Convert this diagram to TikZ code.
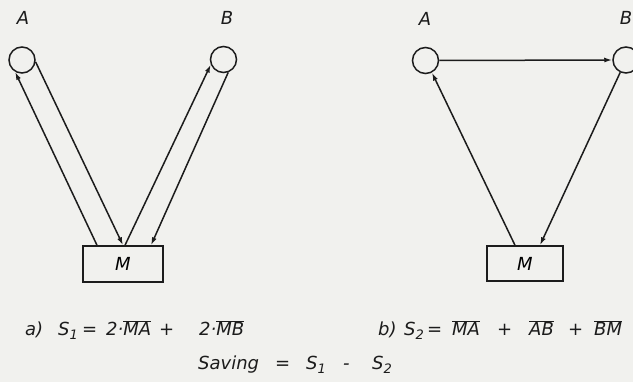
\documentclass[tikz,border=0pt]{standalone}
\usepackage{fontspec}
\setmainfont{DejaVu Sans}
\usetikzlibrary{arrows.meta}
\definecolor{paper}{HTML}{F1F1EE}
\definecolor{ink}{HTML}{1C1C1C}
\newcommand\ovl[1]{$\overline{\hbox{#1}}$}
\newcommand\sub[1]{\raisebox{-3.5pt}{\fontsize{13}{13}\selectfont #1}}
\tikzset{
  circ/.style={circle, draw=ink, line width=1.5pt, minimum size=26pt, inner sep=0pt},
  mbox/.style={rectangle, draw=ink, line width=1.5pt, inner sep=0pt, font=\fontsize{18}{18}\selectfont\itshape},
  lbl/.style={font=\fontsize{18}{18}\selectfont\itshape, text=ink, inner sep=0pt},
  tok/.style={font=\fontsize{18}{18}\selectfont\itshape, text=ink, inner sep=0pt, anchor=base west},
  conn/.style={draw=ink, line width=1.5pt},
  tip/.style={-{Latex[length=8pt,width=5pt]}}
}
\begin{document}
\begin{tikzpicture}[x=1pt,y=-1pt]
\fill[paper] (0,0) rectangle (633,382);
\useasboundingbox (0,0) rectangle (633,382);
% left diagram
\node[lbl] (la) at (23,18) {A};
\node[lbl] (lb) at (227,18) {B};
\node[circ] (A1) at (22,60) {};
\node[circ] (B1) at (223.5,59.5) {};
\node[mbox, minimum width=80pt, minimum height=36pt] (M1) at (123,264) {M};
\draw[conn,tip] ([xshift=-26pt]M1.north) -- (A1.-120);
\draw[conn,tip] (A1.-8) -- (M1.north);
\draw[conn,tip] ([xshift=2pt]M1.north) -- (B1.-158);
\draw[conn,tip] (B1.-70) -- ([xshift=28pt]M1.north);
% right diagram
\node[lbl] (ra) at (425,19) {A};
\node[lbl] (rb) at (626,18) {B};
\node[circ] (A2) at (425.5,60.5) {};
\node[circ] (B2) at (626,60) {};
\node[mbox, minimum width=76pt, minimum height=35pt] (M2) at (525,263.5) {M};
\draw[conn,tip] (A2.east) -- (B2.west);
\draw[conn,tip] ([xshift=-10pt]M2.north) -- (A2.-62);
\draw[conn,tip] (B2.-115) -- ([xshift=15pt]M2.north);
% formula a
\node[tok] (a1) at (25,336) {a)};
\node[tok] (a2) at (58,336) {S\sub{1}};
\node[tok] (a3) at (82,336) {=};
\node[tok] (a4) at (106,336) {2·\ovl{MA}};
\node[tok] (a5) at (159,336) {+};
\node[tok] (a6) at (199,336) {2·\ovl{MB}};
% formula b
\node[tok] (b1) at (378,336) {b)};
\node[tok] (b2) at (404,336) {S\sub{2}};
\node[tok] (b3) at (427,336) {=};
\node[tok] (b4) at (452,336) {\ovl{MA}};
\node[tok] (b5) at (497,336) {+};
\node[tok] (b6) at (529,336) {\ovl{AB}};
\node[tok] (b7) at (568,336) {+};
\node[tok] (b8) at (594,336) {\ovl{BM}};
% saving
\node[tok] (s1) at (198,370) {Saving};
\node[tok] (s2) at (275,370) {=};
\node[tok] (s3) at (306,370) {S\sub{1}};
\node[tok] (s4) at (343,370) {-};
\node[tok] (s5) at (372,370) {S\sub{2}};
\end{tikzpicture}
\end{document}
